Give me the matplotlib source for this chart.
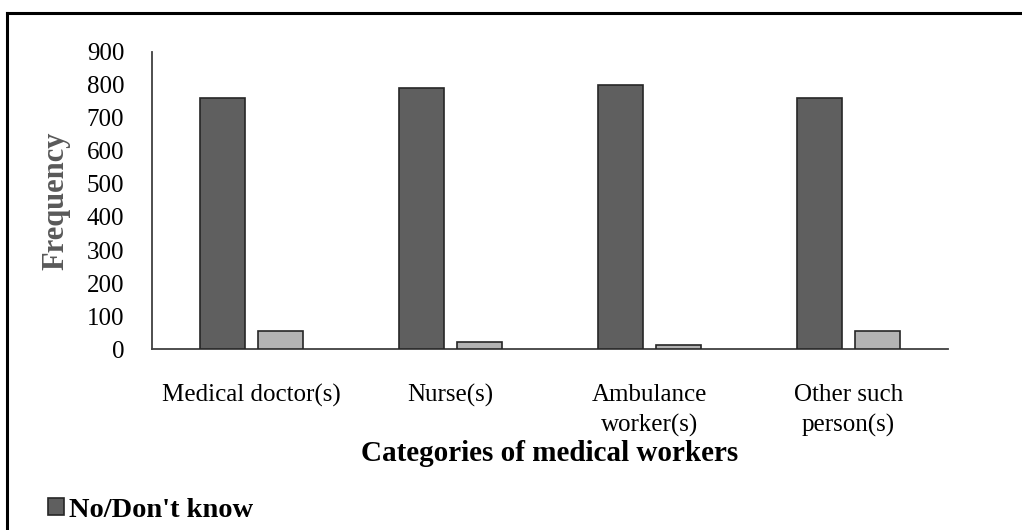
import numpy as np
import matplotlib.pyplot as plt
from matplotlib.lines import Line2D

# dados
categorias = ['Medical doctor(s)', 'Nurse(s)', 'Ambulance\nworker(s)', 'Other such\nperson(s)']
nao_sabe = [760, 790, 800, 760]
outros = [55, 22, 12, 55]
yticks = [0, 100, 200, 300, 400, 500, 600, 700, 800, 900]

plt.rcParams['font.family'] = ['Liberation Serif', 'DejaVu Serif']

fig = plt.figure(figsize=(10.22, 5.30), dpi=100)
ax = fig.add_axes([0.1487, 0.3415, 0.7789, 0.5604])

x = np.arange(len(categorias))
larg = 0.226
desl = 0.144
b1 = ax.bar(x - desl, nao_sabe, larg, color='#5f5f5f', edgecolor='#262626', linewidth=1.2,
            label="No/Don't know", zorder=3)
ax.bar(x + desl, outros, larg, color='#b3b3b3', edgecolor='#262626', linewidth=1.2, zorder=3)

ax.set_xlim(-0.5, len(categorias) - 0.5)
ax.set_ylim(0, 900)
ax.set_yticks(yticks)
ax.set_xticks(x)
ax.set_xticklabels(categorias, fontsize=18, linespacing=1.45)
ax.tick_params(axis='y', labelsize=18, length=0, pad=20)
ax.tick_params(axis='x', length=0, pad=25)

for s in ['top', 'right']:
    ax.spines[s].set_visible(False)
for s in ['left', 'bottom']:
    ax.spines[s].set_color('#404040')
    ax.spines[s].set_linewidth(1.3)

ax.set_ylabel('Frequency', fontsize=22, fontweight='bold', color='#595959', labelpad=12)
ax.set_xlabel('Categories of medical workers', fontsize=21, fontweight='bold', labelpad=2)

fig.legend(handles=[b1], loc='lower left', bbox_to_anchor=(0.022, -0.035), frameon=False,
           prop={'size': 20.5, 'weight': 'bold'}, handlelength=0.55, handleheight=0.55,
           handletextpad=0.2)

# moldura (so esquerda e topo aparecem)
fig.add_artist(Line2D([0.0068, 0.0068], [0.0, 0.976], color='black', lw=2.2, transform=fig.transFigure))
fig.add_artist(Line2D([0.0068, 1.0], [0.976, 0.976], color='black', lw=2.2, transform=fig.transFigure))

fig.savefig('out.png', dpi=100)
